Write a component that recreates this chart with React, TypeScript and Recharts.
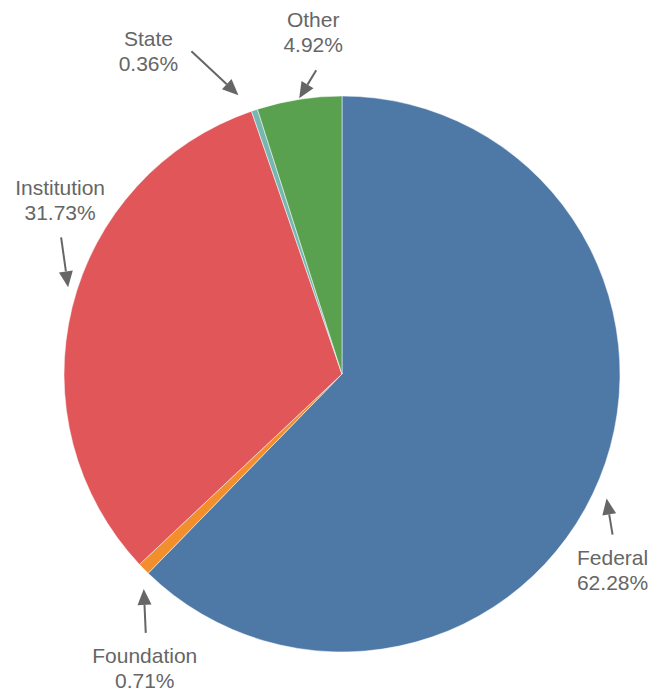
import { Cell, Pie, PieChart } from "recharts";

const sources = ["Federal", "Foundation", "Institution", "State", "Other"];
const shares = [62.28, 0.71, 31.73, 0.36, 4.92];

const colors = ["#4e79a7", "#f28e2b", "#e15759", "#76b7b2", "#59a14f"];

// arrow tip / tail and text centre, relative to the slice's outer mid point
const labelLayout: Record<string, { tip: number[]; tail: number[]; text: number[] }> = {
  Federal: { tip: [7, 20], tail: [13, 56], text: [13, 79] },
  Foundation: { tip: [0, 20], tail: [2, 64], text: [1, 87] },
  Institution: { tip: [-4, -20], tail: [-11, -70], text: [-12, -120] },
  State: { tip: [-16, -15], tail: [-63, -59], text: [-106, -72] },
  Other: { tip: [0, -1], tail: [17, -29], text: [14, -80] },
};

const data = sources.map((name, i) => ({ name, value: shares[i] }));

const RAD = Math.PI / 180;

function ArrowLabel(props: any) {
  const { cx, cy, midAngle, outerRadius, name, value } = props;
  const mx = cx + outerRadius * Math.cos(-midAngle * RAD);
  const my = cy + outerRadius * Math.sin(-midAngle * RAD);
  const l = labelLayout[name];
  const tx = mx + l.tip[0];
  const ty = my + l.tip[1];
  const sx = mx + l.tail[0];
  const sy = my + l.tail[1];
  const dx = tx - sx;
  const dy = ty - sy;
  const len = Math.sqrt(dx * dx + dy * dy);
  const ux = dx / len;
  const uy = dy / len;
  const head = 16;
  const half = 7;
  const bx = tx - ux * head;
  const by = ty - uy * head;
  const pts = `${tx},${ty} ${bx - uy * half},${by + ux * half} ${bx + uy * half},${by - ux * half}`;
  const lx = mx + l.text[0];
  const ly = my + l.text[1];
  const font = "Liberation Sans, Arial, sans-serif";
  return (
    <g>
      <line x1={sx} y1={sy} x2={bx} y2={by} stroke="#666" strokeWidth={2} />
      <polygon points={pts} fill="#666" />
      <text x={lx} y={ly} textAnchor="middle" dominantBaseline="central" fill="#666" fontSize={21} fontFamily={font}>
        {name}
      </text>
      <text x={lx} y={ly + 25} textAnchor="middle" dominantBaseline="central" fill="#666" fontSize={21} fontFamily={font}>
        {value.toFixed(2)}%
      </text>
    </g>
  );
}

export default function App() {
  return (
    <div style={{ position: "absolute", left: 0, top: 0, background: "#fff" }}>
      <PieChart width={670} height={692} margin={{ top: 0, right: 0, bottom: 0, left: 0 }}>
        <Pie
          data={data}
          dataKey="value"
          nameKey="name"
          cx={342}
          cy={374}
          outerRadius={278}
          startAngle={90}
          endAngle={-270}
          stroke="#fff"
          strokeWidth={0.5}
          labelLine={false}
          label={ArrowLabel}
          isAnimationActive={false}
        >
          {data.map((d, i) => (
            <Cell key={d.name} fill={colors[i]} />
          ))}
        </Pie>
      </PieChart>
    </div>
  );
}
